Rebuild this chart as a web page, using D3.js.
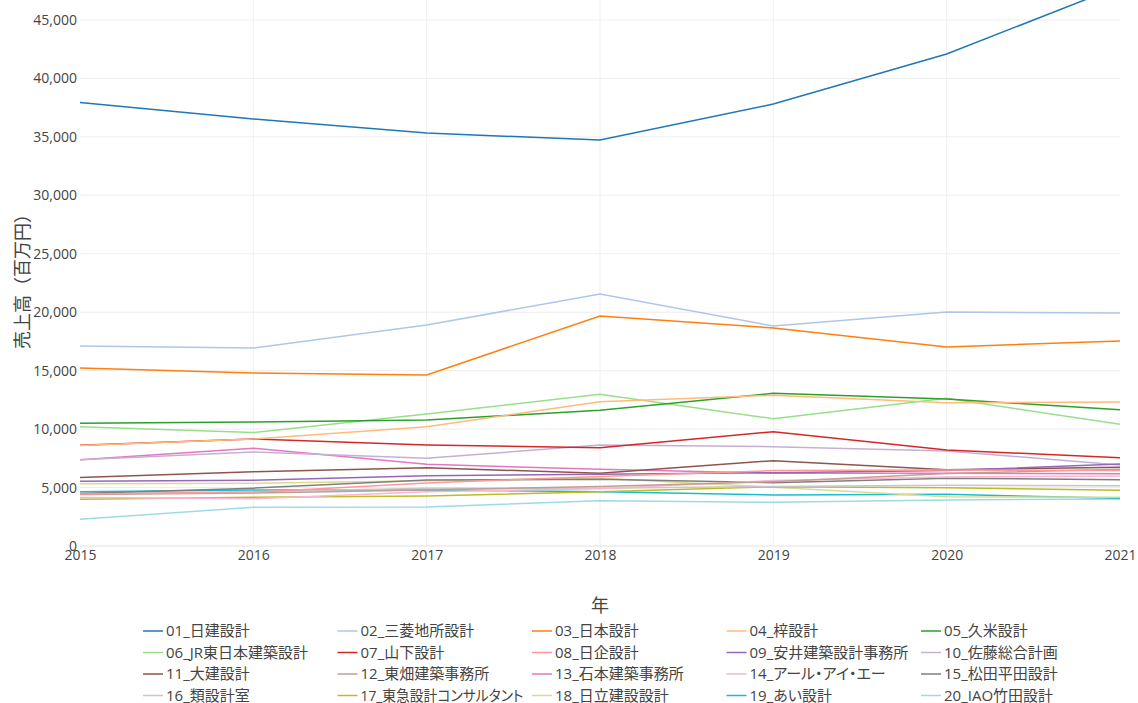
<!DOCTYPE html>
<html>
<head>
<meta charset="utf-8">
<script src="https://cdn.jsdelivr.net/npm/d3@7"></script>
<style>
  html, body { margin: 0; padding: 0; background: #fff; }
  svg { display: block; }
  text { font-family: "Open Sans", "Noto Sans CJK JP", sans-serif; fill: #444; }
</style>
</head>
<body>
<svg id="chart" width="1138" height="703"></svg>
<script>
const years = [2015, 2016, 2017, 2018, 2019, 2020, 2021];
const yTicks = [0, 5000, 10000, 15000, 20000, 25000, 30000, 35000, 40000, 45000];
const names = [
  "01_日建設計", "02_三菱地所設計", "03_日本設計", "04_梓設計", "05_久米設計",
  "06_JR東日本建築設計", "07_山下設計", "08_日企設計", "09_安井建築設計事務所", "10_佐藤総合計画",
  "11_大建設計", "12_東畑建築事務所", "13_石本建築事務所", "14_アール・アイ・エー", "15_松田平田設計",
  "16_類設計室", "17_東急設計コンサルタント", "18_日立建設設計", "19_あい設計", "20_IAO竹田設計"
];
const colors = [
  "#1f77b4", "#aec7e8", "#ff7f0e", "#ffbb78", "#2ca02c",
  "#98df8a", "#d62728", "#ff9896", "#9467bd", "#c5b0d5",
  "#8c564b", "#c49c94", "#e377c2", "#f7b6d2", "#7f7f7f",
  "#c7c7c7", "#bcbd22", "#dbdb8d", "#17becf", "#9edae5"
];
const s01 = [37950, 36530, 35330, 34730, 37810, 42090, 47900];
const s02 = [17110, 16940, 18900, 21560, 18820, 20020, 19930];
const s03 = [15230, 14800, 14630, 19680, 18650, 17020, 17540];
const s04 = [8600, 9150, 10200, 12350, 12900, 12260, 12320];
const s05 = [10500, 10610, 10780, 11610, 13060, 12580, 11660];
const s06 = [10210, 9700, 11290, 12980, 10890, 12630, 10410];
const s07 = [8610, 9150, 8640, 8410, 9780, 8210, 7550];
const s08 = [4450, 4600, 5400, 5950, 6450, 6500, 6450];
const s09 = [5530, 5620, 6020, 6130, 6270, 6450, 7010];
const s10 = [7380, 8040, 7500, 8640, 8500, 8130, 6930];
const s11 = [5850, 6360, 6700, 6220, 7300, 6530, 6730];
const s12 = [4400, 4530, 4800, 5100, 5500, 6200, 6560];
const s13 = [7380, 8360, 6990, 6560, 6220, 6220, 6190];
const s14 = [4150, 4050, 4650, 4900, 5600, 5900, 5990];
const s15 = [4500, 4950, 5650, 5700, 5420, 5800, 5670];
const s16 = [4480, 4650, 4940, 4940, 5100, 5200, 5160];
const s17 = [3990, 4160, 4280, 4650, 5070, 4990, 4760];
const s18 = [5330, 5360, 5590, 5790, 5020, 4220, 4160];
const s19 = [4650, 4790, 4790, 4650, 4360, 4420, 4080];
const s20 = [2280, 3310, 3340, 3880, 3740, 3940, 4020];
const seriesValues = [s01, s02, s03, s04, s05, s06, s07, s08, s09, s10,
                      s11, s12, s13, s14, s15, s16, s17, s18, s19, s20];

const svg = d3.select("#chart");
const x = d3.scaleLinear().domain([2015, 2021]).range([80, 1120]);
const y = d3.scaleLinear().domain([0, 45000]).range([546, 20]);

// gridlines
const grid = svg.append("g");
grid.selectAll("line.h").data(yTicks.filter(d => d > 0)).enter().append("line")
  .attr("x1", 80).attr("x2", 1120)
  .attr("y1", d => y(d)).attr("y2", d => y(d))
  .attr("stroke", "#eee").attr("stroke-width", 1);
grid.selectAll("line.v").data(years.slice(1, -1)).enter().append("line")
  .attr("x1", d => x(d)).attr("x2", d => x(d))
  .attr("y1", 0).attr("y2", 546)
  .attr("stroke", "#eee").attr("stroke-width", 1);
grid.append("line").attr("x1", 80).attr("x2", 1120)
  .attr("y1", y(0)).attr("y2", y(0)).attr("stroke", "#e2e2e2").attr("stroke-width", 1);

// axes
const yAxis = svg.append("g").attr("transform", "translate(80,0)")
  .call(d3.axisLeft(y).tickValues(yTicks).tickFormat(d3.format(",")).tickSize(0).tickPadding(3));
yAxis.select(".domain").remove();
yAxis.selectAll("text").attr("font-size", 14).style("fill", "#444");

const xAxis = svg.append("g").attr("transform", "translate(0,546)")
  .call(d3.axisBottom(x).tickValues(years).tickFormat(d3.format("d")).tickSize(0).tickPadding(4));
xAxis.select(".domain").remove();
xAxis.selectAll("text").attr("font-size", 14).style("fill", "#444");

// axis titles
svg.append("text").attr("x", 600).attr("y", 612).attr("text-anchor", "middle")
  .attr("font-size", 18).text("年");
svg.append("text").attr("transform", "translate(29,277) rotate(-90)")
  .attr("text-anchor", "middle").attr("font-size", 18).text("売上高（百万円）");

// lines
const line = d3.line().x((d, i) => x(years[i])).y(d => y(d));
svg.append("g").selectAll("path").data(seriesValues.map((v, i) => ({v, i})).reverse())
  .enter().append("path")
  .attr("d", d => line(d.v))
  .attr("fill", "none")
  .attr("stroke", d => colors[d.i])
  .attr("stroke-width", 1.5);

// legend
const leg = svg.append("g").attr("class", "leg");
names.forEach((n, i) => {
  const col = i % 5, row = Math.floor(i / 5);
  const lx = 143 + col * 194.5, ly = 631 + row * 21.5;
  leg.append("line").attr("x1", lx).attr("x2", lx + 20).attr("y1", ly).attr("y2", ly)
    .attr("stroke", colors[i]).attr("stroke-width", 1.5);
  const t = leg.append("text").attr("x", lx + 23).attr("y", ly).attr("dy", "0.36em")
    .attr("font-size", 15)
    .style("font-feature-settings", "'palt' 1")
    .text(n);
  const len = t.node().getComputedTextLength();
  if (len > 168) t.attr("textLength", 163).attr("lengthAdjust", "spacingAndGlyphs");
});
</script>
</body>
</html>
